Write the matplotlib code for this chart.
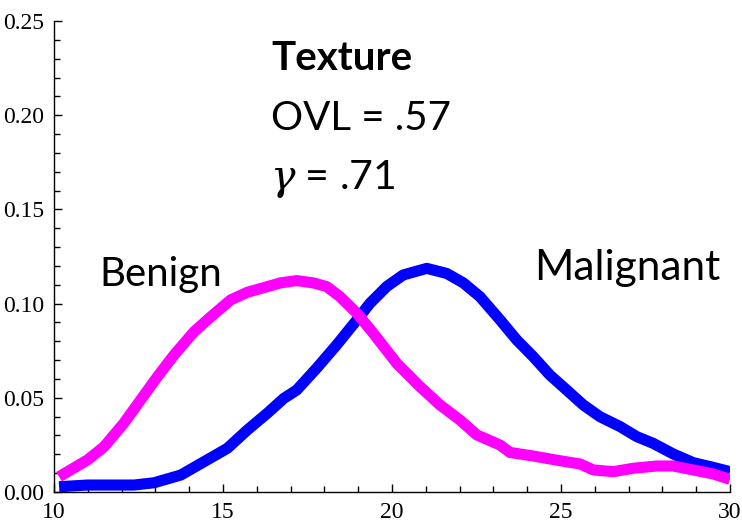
"""Texture: Benign vs Malignant density curves (OVL and gamma annotation)."""

import matplotlib

matplotlib.use("Agg")
import matplotlib.pyplot as plt
from matplotlib.ticker import MultipleLocator, FormatStrFormatter

# 良性 (Benign) 曲线
benign_x = [10.15, 10.99, 11.48, 12.07, 12.56, 13.06, 13.55, 14.14, 14.64, 15.23,
            15.72, 16.31, 16.70, 17.18, 17.67, 18.07, 18.46, 18.96, 19.45, 20.14,
            20.83, 21.42, 22.01, 22.51, 23.20, 23.49, 24.18, 24.97, 25.56, 25.96,
            26.55, 27.14, 27.83, 28.32, 28.91, 29.50, 30.00]
benign_y = [0.0081, 0.0170, 0.0240, 0.0366, 0.0488, 0.0612, 0.0727, 0.0850, 0.0930, 0.1020,
            0.1060, 0.1090, 0.1110, 0.1122, 0.1110, 0.1090, 0.1037, 0.0949, 0.0842, 0.0683,
            0.0559, 0.0462, 0.0382, 0.0303, 0.0249, 0.0210, 0.0191, 0.0166, 0.0149, 0.0117,
            0.0108, 0.0126, 0.0138, 0.0138, 0.0117, 0.0096, 0.0067]

# 恶性 (Malignant) 曲线
malignant_x = [10.15, 10.99, 12.37, 12.96, 13.75, 14.44, 15.13, 15.72, 16.31, 16.80,
               17.18, 17.77, 18.36, 18.96, 19.35, 19.84, 20.33, 21.03, 21.62, 22.11,
               22.60, 23.20, 23.69, 24.18, 24.67, 25.17, 25.66, 26.15, 26.75, 27.24,
               27.73, 28.32, 28.91, 29.50, 30.00]
malignant_y = [0.0028, 0.0037, 0.0037, 0.0049, 0.0090, 0.0161, 0.0232, 0.0329, 0.0418, 0.0497,
               0.0541, 0.0657, 0.0780, 0.0913, 0.1002, 0.1090, 0.1152, 0.1187, 0.1160, 0.1110,
               0.1037, 0.0913, 0.0807, 0.0718, 0.0621, 0.0541, 0.0462, 0.0400, 0.0347, 0.0294,
               0.0258, 0.0202, 0.0156, 0.0131, 0.0108]

title_text = "Texture"
ovl_text = "OVL = .57"
gamma_text = r"$\mathit{\gamma}$ = .71"


def main():
    plt.rcParams["mathtext.fontset"] = "custom"
    plt.rcParams["mathtext.rm"] = "Lato"
    plt.rcParams["mathtext.it"] = "DejaVu Serif:italic"

    fig = plt.figure(figsize=(7.42, 5.24), dpi=100)
    ax = fig.add_axes([54 / 742, 32 / 524, 676 / 742, 471 / 524])

    ax.plot(malignant_x, malignant_y, color="#0000FF", lw=8,
            solid_capstyle="butt", solid_joinstyle="round")
    ax.plot(benign_x, benign_y, color="#FF00FF", lw=8,
            solid_capstyle="butt", solid_joinstyle="round")

    ax.set_xlim(10, 30)
    ax.set_ylim(0, 0.25)
    for s in ("top", "right"):
        ax.spines[s].set_visible(False)
    for s in ("left", "bottom"):
        ax.spines[s].set_linewidth(1.0)

    ax.xaxis.set_major_locator(MultipleLocator(5))
    ax.xaxis.set_minor_locator(MultipleLocator(1))
    ax.yaxis.set_major_locator(MultipleLocator(0.05))
    ax.yaxis.set_minor_locator(MultipleLocator(0.01))
    ax.yaxis.set_major_formatter(FormatStrFormatter("%.2f"))
    ax.tick_params(which="both", direction="in", width=1.0,
                   labelsize=17, labelfontfamily="Liberation Serif")
    ax.tick_params(which="major", length=6)
    ax.tick_params(which="minor", length=4)
    ax.tick_params(axis="y", which="major", pad=7)
    ax.tick_params(axis="x", which="major", pad=7)
    for lab in ax.get_xticklabels() + ax.get_yticklabels():
        lab.set_clip_on(False)

    font = "Lato"
    ax.text(16.42, 0.2240, title_text, fontsize=29, fontweight="bold",
            family=font, va="baseline")
    ax.text(16.42, 0.1922, ovl_text, fontsize=29, family=font, va="baseline")
    ax.text(16.38, 0.1609, gamma_text, fontsize=29.5, family=font, va="baseline")
    ax.text(11.35, 0.1093, "Benign", fontsize=29, family=font, va="baseline")
    ax.text(24.2, 0.1125, "Malignant", fontsize=30.5, family=font, va="baseline")

    fig.savefig("out.png", dpi=100)


if __name__ == "__main__":
    main()
